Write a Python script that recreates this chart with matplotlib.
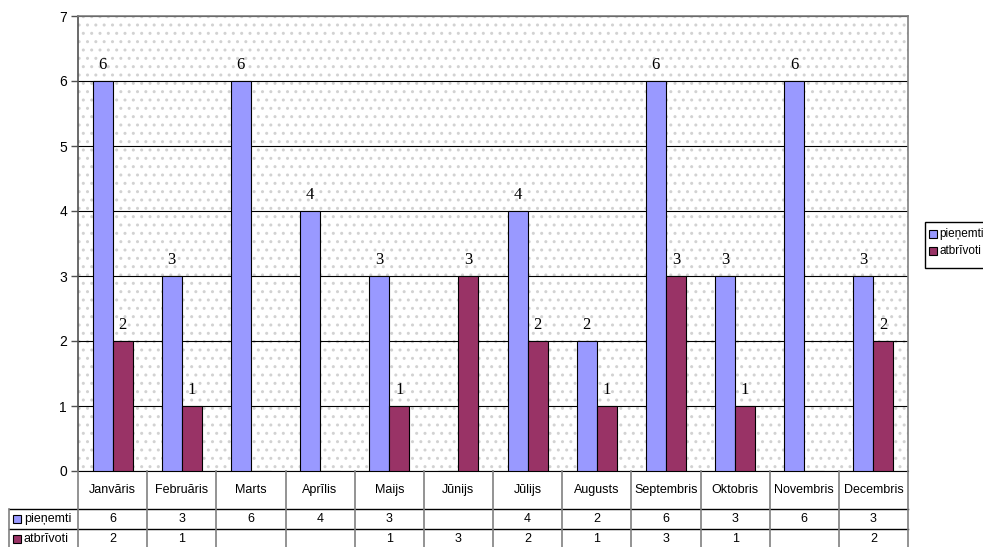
import numpy as np
import matplotlib.pyplot as plt
from matplotlib.patches import Rectangle

months = ['Janvāris', 'Februāris', 'Marts', 'Aprīlis', 'Maijs', 'Jūnijs',
          'Jūlijs', 'Augusts', 'Septembris', 'Oktobris', 'Novembris', 'Decembris']
pienemti = [6, 3, 6, 4, 3, None, 4, 2, 6, 3, 6, 3]
atbrivoti = [2, 1, None, None, 1, 3, 2, 1, 3, 1, None, 2]
series_names = ['pieņemti', 'atbrīvoti']
colors = ['#9999FF', '#993366']

W, H = 983, 547
fig = plt.figure(figsize=(W / 100, H / 100), dpi=100)

def fx(px):
    return px / W

def fy(py):
    return 1 - py / H

# plot area in pixel coords
x0, x1, ytop, ybot = 78, 908, 16, 471
ax = fig.add_axes([fx(x0), fy(ybot), fx(x1 - x0), (ybot - ytop) / H])

n = len(months)
x = np.arange(n)
bw = 0.29
# dotted background of the plot area
plt.rcParams['hatch.color'] = '#d2d2d2'
plt.rcParams['hatch.linewidth'] = 1.0
ax.add_patch(Rectangle((0, 0), 1, 1, transform=ax.transAxes, facecolor='white',
                       edgecolor='#d2d2d2', hatch='..', lw=0, zorder=0))

for i, (vals, c, off) in enumerate([(pienemti, colors[0], -bw / 2), (atbrivoti, colors[1], bw / 2)]):
    v = np.array([np.nan if a is None else a for a in vals], dtype=float)
    ax.bar(x + off, np.nan_to_num(v), width=bw, color=c, edgecolor='black',
           linewidth=0.8, zorder=3)
    for xi, vi in zip(x, v):
        if not np.isnan(vi):
            ax.text(xi + off, vi + 0.13, '%d' % vi, ha='center', va='bottom',
                    family='Liberation Serif', fontsize=12, zorder=4)

ax.set_xlim(-0.5, n - 0.5)
ax.set_ylim(0, 7)
ax.set_yticks(range(8))
ax.yaxis.grid(True, color='black', lw=0.8, zorder=1)
ax.set_axisbelow(True)
ax.set_xticks([])
ax.tick_params(axis='y', length=5, width=1, color='#505050', labelsize=10, pad=3)
for lab in ax.get_yticklabels():
    lab.set_family('Liberation Sans')
ax.spines['top'].set_color('#808080')
ax.spines['top'].set_linewidth(1.2)
ax.spines['left'].set_color('#505050')
ax.spines['left'].set_linewidth(1.2)
ax.spines['right'].set_color('#808080')
ax.spines['right'].set_linewidth(1.2)
ax.spines['bottom'].set_color('black')

# data table drawn under the plot
tab = fig.add_axes([0, 0, 1, 1], facecolor='none')
tab.set_xlim(0, W)
tab.set_ylim(H, 0)
tab.axis('off')
cw = (x1 - x0) / n
rows = [471, 509, 529, 549]
tlx = 9
tab.plot([tlx, x1], [rows[1], rows[1]], color='black', lw=1)
tab.plot([tlx, x1], [rows[2], rows[2]], color='black', lw=1)
for k in range(n + 1):
    xx = x0 + k * cw
    tab.plot([xx, xx], [rows[0], rows[3]], color='#808080', lw=1.2)
tab.plot([tlx, tlx], [rows[1], rows[3]], color='#808080', lw=1.2)
for k, m in enumerate(months):
    cx = x0 + (k + 0.5) * cw
    tab.text(cx, (rows[0] + rows[1]) / 2, m, ha='center', va='center',
             family='Liberation Sans', fontsize=9)
    for r, vals in enumerate([pienemti, atbrivoti]):
        if vals[k] is not None:
            tab.text(cx, (rows[r + 1] + rows[r + 2]) / 2, str(vals[k]), ha='center',
                     va='center', family='Liberation Sans', fontsize=9)
for r, (name, c) in enumerate(zip(series_names, colors)):
    yc = (rows[r + 1] + rows[r + 2]) / 2
    tab.add_patch(Rectangle((13, yc - 4), 8, 8, facecolor=c, edgecolor='black', lw=0.8))
    tab.text(24, yc, name, ha='left', va='center', family='Liberation Sans', fontsize=9)

# legend on the right
tab.add_patch(Rectangle((925, 222), 60, 46, facecolor='white', edgecolor='black', lw=1))
for r, (name, c) in enumerate(zip(series_names, colors)):
    yc = 234 + r * 17
    tab.add_patch(Rectangle((929, yc - 4), 8, 8, facecolor=c, edgecolor='black', lw=0.8))
    tab.text(939, yc, name, ha='left', va='center', family='Liberation Sans', fontsize=8.5)

fig.savefig('out.png', dpi=100)
